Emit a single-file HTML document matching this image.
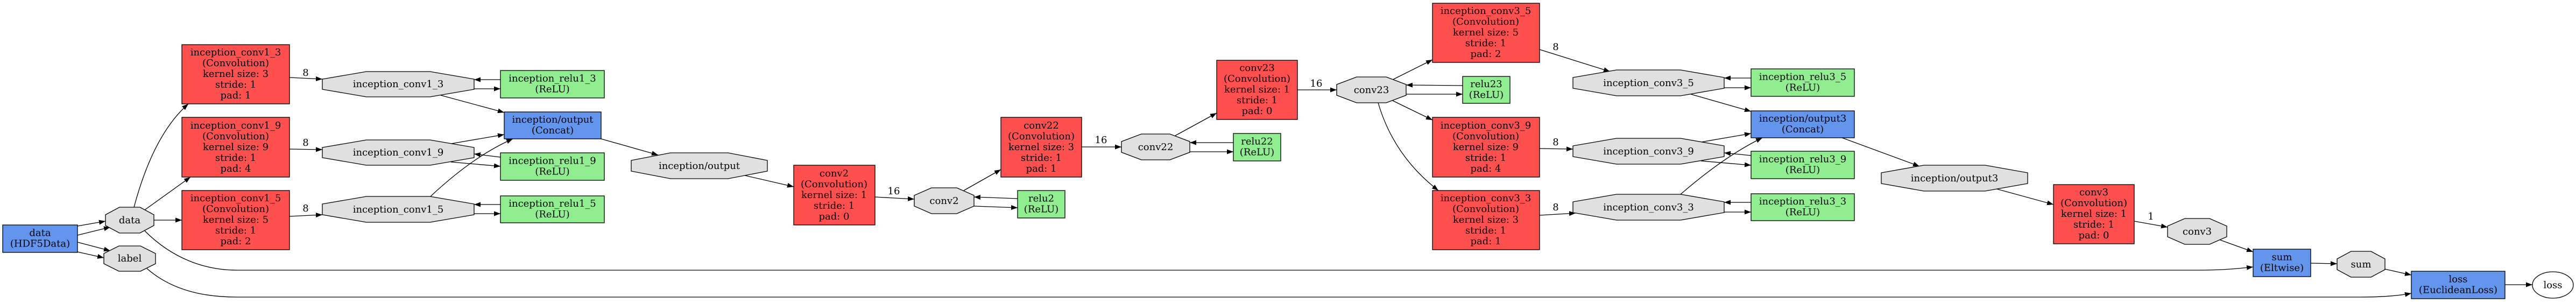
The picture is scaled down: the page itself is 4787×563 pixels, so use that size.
<!DOCTYPE html>
<html><head><meta charset="utf-8"><style>
html,body{margin:0;padding:0;background:#fff;}
svg{display:block;}
text{font-family:"DejaVu Serif","Liberation Serif",serif;font-size:18px;text-anchor:middle;fill:#000;}
.r{fill:#ff5050;stroke:#000;stroke-width:1.3}
.g{fill:#90ee90;stroke:#000;stroke-width:1.3}
.b{fill:#6495ed;stroke:#000;stroke-width:1.3}
.o{fill:#e0e0e0;stroke:#000;stroke-width:1.3}
.e{fill:none;stroke:#000;stroke-width:1.3;marker-end:url(#a)}
</style></head><body>
<svg width="4787" height="563" viewBox="0 0 4787 563" xmlns="http://www.w3.org/2000/svg">
<defs><marker id="a" markerUnits="userSpaceOnUse" markerWidth="12" markerHeight="9" refX="12" refY="4.5" orient="auto"><path d="M0,0 L12,4.5 L0,9 z" fill="#000"/></marker></defs>

<!-- edges -->
<path class="e" d="M144,420 L196,411"/>
<path class="e" d="M144,437 L205,422"/>
<path class="e" d="M144,450 L205,466"/>
<path class="e" d="M144,468 L193,479"/>
<path class="e" d="M249,385 Q285,250 350,193"/>
<path class="e" d="M269,390 L354,329"/>
<path class="e" d="M286,409 L338,409"/>
<path class="e" d="M538,144 L599,147"/>
<path class="e" d="M538,277 L599,278"/>
<path class="e" d="M538,402 L599,399"/>
<path class="e" d="M930,148 L881,148"/>
<path class="e" d="M881,165 L930,165"/>
<path class="e" d="M819,177 L937,209"/>
<path class="e" d="M838,267 L937,250"/>
<path class="e" d="M930,292 L881,286"/>
<path class="e" d="M838,301 L930,309"/>
<path class="e" d="M800,365 Q880,290 953,258"/>
<path class="e" d="M930,380 L881,380"/>
<path class="e" d="M881,397 L930,397"/>
<path class="e" d="M1117,258 L1223,288"/>
<path class="e" d="M1384,326 L1475,347"/>
<path class="e" d="M1626,366 L1699,370"/>
<path class="e" d="M1891,369 L1810,366"/>
<path class="e" d="M1810,383 L1891,386"/>
<path class="e" d="M1791,354 L1860,315"/>
<path class="e" d="M2010,273 L2084,273"/>
<path class="e" d="M2292,265 L2211,265"/>
<path class="e" d="M2211,282 L2292,282"/>
<path class="e" d="M2184,252 L2261,210"/>
<path class="e" d="M2411,167 L2484,167"/>
<path class="e" d="M2718,159 L2613,158"/>
<path class="e" d="M2613,175 L2718,175"/>
<path class="e" d="M2588,148 L2662,111"/>
<path class="e" d="M2588,187 L2662,223"/>
<path class="e" d="M2561,191 Q2590,290 2673,354"/>
<path class="e" d="M2861,92 L2992,133"/>
<path class="e" d="M2861,276 L2923,277"/>
<path class="e" d="M2861,400 L2928,396"/>
<path class="e" d="M3254,145 L3204,145"/>
<path class="e" d="M3204,163 L3254,163"/>
<path class="e" d="M3142,175 L3254,207"/>
<path class="e" d="M3161,264 L3254,248"/>
<path class="e" d="M3254,289 L3204,284"/>
<path class="e" d="M3161,299 L3254,307"/>
<path class="e" d="M3123,361 Q3205,290 3275,256"/>
<path class="e" d="M3254,376 L3204,376"/>
<path class="e" d="M3204,394 L3254,394"/>
<path class="e" d="M3423,256 L3567,309"/>
<path class="e" d="M3710,351 L3816,380"/>
<path class="e" d="M3966,411 L4028,422"/>
<path class="e" d="M4126,446 L4187,468"/>
<path class="e" d="M269,429 C320,480 380,502 440,502 L4085,502 C4130,502 4160,499 4187,496"/>
<path class="e" d="M273,499 C320,540 380,552 440,552 L4387,552 C4430,552 4460,549 4481,545"/>
<path class="e" d="M4294,489 L4343,490"/>
<path class="e" d="M4432,500 L4481,511"/>
<path class="e" d="M4655,529 L4706,529"/>

<!-- edge labels -->
<text x="568" y="141">8</text>
<text x="568" y="271">8</text>
<text x="568" y="393">8</text>
<text x="1661" y="361">16</text>
<text x="2046" y="266">16</text>
<text x="2446" y="161">16</text>
<text x="2891" y="93">8</text>
<text x="2891" y="270">8</text>
<text x="2891" y="391">8</text>
<text x="3997" y="408">1</text>

<!-- red conv boxes -->
<rect class="r" x="338" y="83" width="200" height="110"/>
<text x="438" y="103">inception_conv1_3</text><text x="438" y="123">(Convolution)</text><text x="438" y="143">kernel size: 3</text><text x="438" y="163">stride: 1</text><text x="438" y="183">pad: 1</text>
<rect class="r" x="338" y="218" width="200" height="111"/>
<text x="438" y="239">inception_conv1_9</text><text x="438" y="259">(Convolution)</text><text x="438" y="279">kernel size: 9</text><text x="438" y="299">stride: 1</text><text x="438" y="319">pad: 4</text>
<rect class="r" x="338" y="354" width="200" height="110"/>
<text x="438" y="374">inception_conv1_5</text><text x="438" y="394">(Convolution)</text><text x="438" y="414">kernel size: 5</text><text x="438" y="434">stride: 1</text><text x="438" y="454">pad: 2</text>
<rect class="r" x="1475" y="307" width="151" height="111"/>
<text x="1550" y="328">conv2</text><text x="1550" y="348">(Convolution)</text><text x="1550" y="368">kernel size: 1</text><text x="1550" y="388">stride: 1</text><text x="1550" y="408">pad: 0</text>
<rect class="r" x="1860" y="218" width="150" height="111"/>
<text x="1935" y="239">conv22</text><text x="1935" y="259">(Convolution)</text><text x="1935" y="279">kernel size: 3</text><text x="1935" y="299">stride: 1</text><text x="1935" y="319">pad: 1</text>
<rect class="r" x="2261" y="112" width="150" height="110"/>
<text x="2336" y="132">conv23</text><text x="2336" y="152">(Convolution)</text><text x="2336" y="172">kernel size: 1</text><text x="2336" y="192">stride: 1</text><text x="2336" y="212">pad: 0</text>
<rect class="r" x="2662" y="6" width="199" height="110"/>
<text x="2761" y="26">inception_conv3_5</text><text x="2761" y="46">(Convolution)</text><text x="2761" y="66">kernel size: 5</text><text x="2761" y="86">stride: 1</text><text x="2761" y="106">pad: 2</text>
<rect class="r" x="2662" y="218" width="199" height="111"/>
<text x="2761" y="239">inception_conv3_9</text><text x="2761" y="259">(Convolution)</text><text x="2761" y="279">kernel size: 9</text><text x="2761" y="299">stride: 1</text><text x="2761" y="319">pad: 4</text>
<rect class="r" x="2662" y="354" width="199" height="110"/>
<text x="2761" y="374">inception_conv3_3</text><text x="2761" y="394">(Convolution)</text><text x="2761" y="414">kernel size: 3</text><text x="2761" y="434">stride: 1</text><text x="2761" y="454">pad: 1</text>
<rect class="r" x="3816" y="343" width="150" height="110"/>
<text x="3891" y="363">conv3</text><text x="3891" y="383">(Convolution)</text><text x="3891" y="403">kernel size: 1</text><text x="3891" y="423">stride: 1</text><text x="3891" y="443">pad: 0</text>

<!-- blue / green boxes -->
<rect class="b" x="5" y="418" width="139" height="51"/>
<text x="74.5" y="438.5">data</text><text x="74.5" y="458.5">(HDF5Data)</text>
<rect class="g" x="930" y="131" width="193" height="51"/>
<text x="1026.5" y="151.5">inception_relu1_3</text><text x="1026.5" y="171.5">(ReLU)</text>
<rect class="b" x="937" y="208" width="180" height="50"/>
<text x="1027" y="228">inception/output</text><text x="1027" y="248">(Concat)</text>
<rect class="g" x="930" y="284" width="193" height="51"/>
<text x="1026.5" y="304.5">inception_relu1_9</text><text x="1026.5" y="324.5">(ReLU)</text>
<rect class="g" x="930" y="364" width="193" height="50"/>
<text x="1026.5" y="384">inception_relu1_5</text><text x="1026.5" y="404">(ReLU)</text>
<rect class="g" x="1891" y="354" width="88" height="51"/>
<text x="1935" y="374.5">relu2</text><text x="1935" y="394.5">(ReLU)</text>
<rect class="g" x="2292" y="248" width="88" height="51"/>
<text x="2336" y="268.5">relu22</text><text x="2336" y="288.5">(ReLU)</text>
<rect class="g" x="2718" y="142" width="88" height="50"/>
<text x="2762" y="162">relu23</text><text x="2762" y="182">(ReLU)</text>
<rect class="g" x="3254" y="128" width="192" height="51"/>
<text x="3350" y="148.5">inception_relu3_5</text><text x="3350" y="168.5">(ReLU)</text>
<rect class="b" x="3254" y="206" width="192" height="50"/>
<text x="3350" y="226">inception/output3</text><text x="3350" y="246">(Concat)</text>
<rect class="g" x="3254" y="281" width="192" height="51"/>
<text x="3350" y="301.5">inception_relu3_9</text><text x="3350" y="321.5">(ReLU)</text>
<rect class="g" x="3254" y="360" width="192" height="50"/>
<text x="3350" y="380">inception_relu3_3</text><text x="3350" y="400">(ReLU)</text>
<rect class="b" x="4187" y="463" width="107" height="51"/>
<text x="4240.5" y="483.5">sum</text><text x="4240.5" y="503.5">(Eltwise)</text>
<rect class="b" x="4481" y="504" width="174" height="51"/>
<text x="4568" y="524.5">loss</text><text x="4568" y="544.5">(EuclideanLoss)</text>

<!-- octagons -->
<polygon class="o" points="222,385 260,385 286,399 286,419 260,433 222,433 196,419 196,399"/><text x="241" y="415">data</text>
<polygon class="o" points="221,457 261,457 289,471 289,490 261,504 221,504 193,490 193,471"/><text x="241" y="486">label</text>
<polygon class="o" points="681,133 799,133 881,147 881,166 799,180 681,180 599,166 599,147"/><text x="740" y="162">inception_conv1_3</text>
<polygon class="o" points="681,260 799,260 881,274 881,293 799,307 681,307 599,293 599,274"/><text x="740" y="289">inception_conv1_9</text>
<polygon class="o" points="681,365 799,365 881,379 881,399 799,413 681,413 599,399 599,379"/><text x="740" y="395">inception_conv1_5</text>
<polygon class="o" points="1246,284 1353,284 1426,298 1426,318 1353,332 1246,332 1173,318 1173,298"/><text x="1299.5" y="314">inception/output</text>
<polygon class="o" points="1731,349 1778,349 1810,363 1810,383 1778,397 1731,397 1699,383 1699,363"/><text x="1754.5" y="379">conv2</text>
<polygon class="o" points="2121,249 2174,249 2211,263 2211,283 2174,297 2121,297 2084,283 2084,263"/><text x="2147.5" y="279">conv22</text>
<polygon class="o" points="2521,143 2576,143 2613,157 2613,177 2576,191 2521,191 2484,177 2484,157"/><text x="2548.5" y="173">conv23</text>
<polygon class="o" points="3004,130 3123,130 3204,144 3204,164 3123,178 3004,178 2923,164 2923,144"/><text x="3063.5" y="160">inception_conv3_5</text>
<polygon class="o" points="3004,257 3123,257 3204,271 3204,291 3123,305 3004,305 2923,291 2923,271"/><text x="3063.5" y="287">inception_conv3_9</text>
<polygon class="o" points="3004,361 3123,361 3204,375 3204,395 3123,409 3004,409 2923,395 2923,375"/><text x="3063.5" y="391">inception_conv3_3</text>
<polygon class="o" points="3575,307 3689,307 3768,321 3768,341 3689,355 3575,355 3496,341 3496,321"/><text x="3632" y="337">inception/output3</text>
<polygon class="o" points="4060,406 4106,406 4138,420 4138,440 4106,454 4060,454 4028,440 4028,420"/><text x="4083" y="436">conv3</text>
<polygon class="o" points="4369,467 4406,467 4432,481 4432,501 4406,515 4369,515 4343,501 4343,481"/><text x="4387.5" y="497">sum</text>
<ellipse cx="4744" cy="529.5" rx="38" ry="24.5" fill="#fff" stroke="#000" stroke-width="1.3"/><text x="4744" y="535.5">loss</text>
</svg>
</body></html>
